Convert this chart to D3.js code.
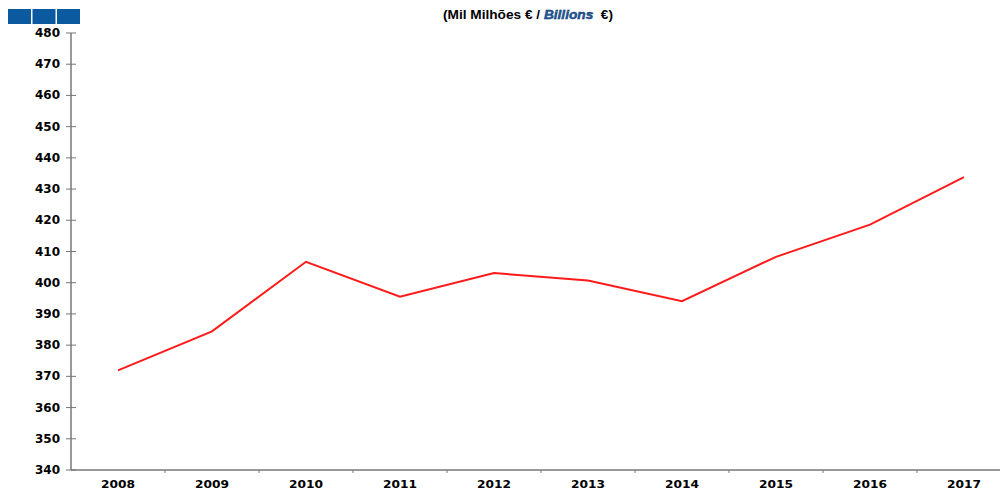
<!DOCTYPE html>
<html>
<head>
<meta charset="utf-8">
<script src="https://cdn.jsdelivr.net/npm/d3@7"></script>
<style>
  body { margin: 0; background: #fff; }
  svg { display: block; }
  text { font-family: "DejaVu Sans", Arial, sans-serif; font-weight: bold; }
</style>
</head>
<body>
<svg width="1000" height="490"></svg>
<script>
const years = ["2008", "2009", "2010", "2011", "2012", "2013", "2014", "2015", "2016", "2017"];
const values = [371.9, 384.4, 406.7, 395.5, 403.1, 400.7, 394.1, 408.3, 418.6, 433.8];
const yTicks = [340, 350, 360, 370, 380, 390, 400, 410, 420, 430, 440, 450, 460, 470, 480];

const svg = d3.select("svg");

// x: one band per year, y: fixed 340..480 range
const x = d3.scaleBand().domain(years).range([71, 1011]);
const y = d3.scaleLinear().domain([340, 480]).range([470, 33]);

// blue boxes top left
svg.selectAll("rect.box")
  .data([0, 1, 2])
  .enter().append("rect")
  .attr("class", "box")
  .attr("x", d => 8 + d * 24.5)
  .attr("y", 9)
  .attr("width", 23)
  .attr("height", 15)
  .style("fill", "#0b5aa0");

// title
const title = svg.append("text")
  .attr("x", 443)
  .attr("y", 19)
  .attr("textLength", 170)
  .attr("lengthAdjust", "spacingAndGlyphs")
  .style("font-family", "Arial, 'Liberation Sans', sans-serif")
  .style("font-size", "12px");
title.append("tspan").text("(Mil Milhões € / ");
title.append("tspan").text("Billions")
  .style("font-style", "italic")
  .style("fill", "#1b5fa8")
  .style("stroke", "#0a2a55")
  .style("stroke-width", 0.4);
title.append("tspan").text("\u00a0\u00a0€)");

// y axis
svg.append("line")
  .attr("x1", 71).attr("x2", 71)
  .attr("y1", y(480)).attr("y2", y(340))
  .style("stroke", "#777").style("stroke-width", 1.5);

svg.selectAll("line.ytick")
  .data(yTicks)
  .enter().append("line")
  .attr("class", "ytick")
  .attr("x1", 66).attr("x2", 76)
  .attr("y1", d => y(d)).attr("y2", d => y(d))
  .style("stroke", "#777").style("stroke-width", 1);

svg.selectAll("text.ylab")
  .data(yTicks)
  .enter().append("text")
  .attr("class", "ylab")
  .attr("x", 60)
  .attr("y", d => y(d) + 4)
  .attr("text-anchor", "end")
  .style("font-size", "12px")
  .style("fill", "#000")
  .text(d => d);

// x axis
svg.append("line")
  .attr("x1", 71).attr("x2", 1000)
  .attr("y1", 470).attr("y2", 470)
  .style("stroke", "#777").style("stroke-width", 1.5);

svg.selectAll("line.xtick")
  .data(years.slice(1))
  .enter().append("line")
  .attr("class", "xtick")
  .attr("x1", d => x(d)).attr("x2", d => x(d))
  .attr("y1", 470).attr("y2", 473)
  .style("stroke", "#777").style("stroke-width", 1);

svg.selectAll("text.xlab")
  .data(years)
  .enter().append("text")
  .attr("class", "xlab")
  .attr("x", d => x(d) + x.bandwidth() / 2)
  .attr("y", 488)
  .attr("text-anchor", "middle")
  .attr("textLength", 34)
  .attr("lengthAdjust", "spacingAndGlyphs")
  .style("font-size", "11px")
  .style("fill", "#000")
  .text(d => d);

// data line
const line = d3.line()
  .x((d, i) => x(years[i]) + x.bandwidth() / 2)
  .y(d => y(d));

svg.append("path")
  .datum(values)
  .attr("d", line)
  .style("fill", "none")
  .style("stroke", "#ff1a1a")
  .style("stroke-width", 2);
</script>
</body>
</html>
